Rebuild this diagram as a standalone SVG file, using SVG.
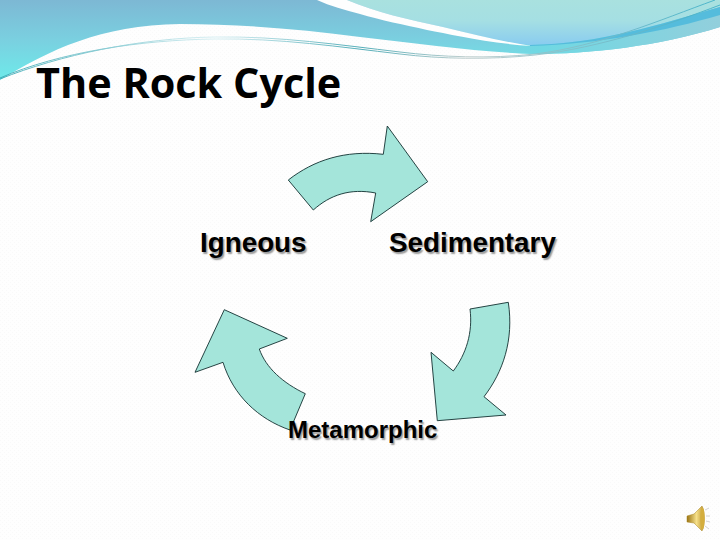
<svg xmlns="http://www.w3.org/2000/svg" width="720" height="540" viewBox="0 0 720 540">
<style>
.arrow{fill:#a4e5da;stroke:#123030;stroke-width:.9;stroke-linejoin:miter}
.label{font-family:"Liberation Sans",Arial,sans-serif;font-weight:700;fill:#000;text-shadow:1.5px 1.5px 1.5px rgba(0,0,0,.4)}
.title{font-family:"Open Sans","Noto Sans",sans-serif;font-weight:700;fill:#000;font-size:41.4px}
.thin{fill:none;stroke-width:.9}
</style>
<defs>
<linearGradient id="bandL" x1="0" y1="0" x2="0" y2="80" gradientUnits="userSpaceOnUse"><stop offset="0" stop-color="#7db8d4"/><stop offset=".5" stop-color="#7ad0e0"/><stop offset="1" stop-color="#6eeaea"/></linearGradient>
<linearGradient id="bandR" x1="500" y1="0" x2="720" y2="0" gradientUnits="userSpaceOnUse"><stop offset="0" stop-color="#70d8e3" stop-opacity="0"/><stop offset=".2" stop-color="#70d8e3"/><stop offset="1" stop-color="#92cfdc"/></linearGradient>
<linearGradient id="sky" x1="0" y1="0" x2="0" y2="46" gradientUnits="userSpaceOnUse"><stop offset="0" stop-color="#a9e1df"/><stop offset=".45" stop-color="#a5dfe3"/><stop offset="1" stop-color="#88cbf0"/></linearGradient>
<linearGradient id="thinG" x1="0" y1="0" x2="720" y2="0" gradientUnits="userSpaceOnUse"><stop offset="0" stop-color="#3ba8b4"/><stop offset=".3" stop-color="#d5eef2"/><stop offset=".5" stop-color="#3fa4b0"/><stop offset=".65" stop-color="#b8c8c8"/><stop offset="1" stop-color="#3fb0c8"/></linearGradient>
<linearGradient id="horn" x1="0" y1="0" x2="1" y2="0"><stop offset="0" stop-color="#9a7414"/><stop offset=".55" stop-color="#f6e08a"/><stop offset="1" stop-color="#b88e24"/></linearGradient>
<pattern id="tex" width="4" height="4" patternUnits="userSpaceOnUse"><rect width="4" height="4" fill="#fefefe"/><rect width="1" height="1" fill="#f9f9f9"/><rect x="2" y="2" width="1" height="1" fill="#f9f9f9"/></pattern>
</defs>
<rect width="720" height="540" fill="url(#tex)"/>
<g id="banner">
<path d="M0 0H720V27C660 46 590 54 533 54C480 52 420 44 360 37C300 29 240 24 180 24C100 25 50 50 0 80Z" fill="url(#bandL)"/>
<path d="M500 52C515 53 525 54 533 54C590 54 660 46 720 27V12H500Z" fill="url(#bandR)"/>
<path d="M347 0C375 12 410 20 443 27C475 35 505 42 530 45C600 44 660 24 720 7V0Z" fill="url(#sky)"/>
<path d="M317 0H347C375 12 410 20 443 27C475 35 505 42 532 46C485 43 450 34 427 30C405 25 380 20 360 14C345 10 330 6 317 0Z" fill="#fefefe"/>
<path d="M530 45C600 44 660 24 720 7V15C665 31 600 44 530 46Z" fill="#55bcdc"/>
<path d="M0 79C60 55 140 38 215 37C280 36 340 45 400 52C440 57 490 59 535 54C600 46 660 20 715 0" class="thin" stroke="url(#thinG)"/>
<path d="M0 78C60 52 140 40 215 39C280 38 340 47 400 54C440 59 490 60 535 55C600 48 670 24 720 5" class="thin" stroke="url(#thinG)"/>
</g>
<text class="title" x="36" y="98">The Rock Cycle</text>
<g id="connectors">
<path id="arrow-igneous-sedimentary" class="arrow" d="M288.3 180C314 160 345 150 383.3 154.3L387.3 126L427.7 181.7L370.7 221.700L375.7 193C350 188 330 195 313.3 210Z"/>
<path id="arrow-sedimentary-metamorphic" class="arrow" d="M470 309L508.3 302.3C514 340 503 372 484 396.7L506 415L437.3 420.7L431 352.3L453.3 371C466 354 473 333 470 309Z"/>
<path id="arrow-metamorphic-igneous" class="arrow" d="M305.3 393.7C283 383 266 368 259.3 349L287.3 338.3L224.3 309.7L195 372.3L223 362.3C233 395 258 419 290 430Z"/>
</g>
<g id="igneous"><text class="label" x="200" y="252" font-size="27.8">Igneous</text></g>
<g id="sedimentary"><text class="label" x="389" y="252" font-size="27.8">Sedimentary</text></g>
<g id="metamorphic"><text class="label" x="288" y="438" font-size="24">Metamorphic</text></g>
<g id="speaker">
<path d="M687 516L694 514L702 506C705 511 705 526 702 531L694 523L687 522Z" fill="url(#horn)" stroke="#a98420" stroke-width=".5"/>
<ellipse cx="702.500" cy="518.500" rx="2.200" ry="11" fill="#d4ae3e"/>
<path d="M705 510L709 508M706 516H710M706 521L710 522M705 526L709 529" stroke="#c8c8c8" stroke-width=".8" fill="none"/>
</g>
</svg>
